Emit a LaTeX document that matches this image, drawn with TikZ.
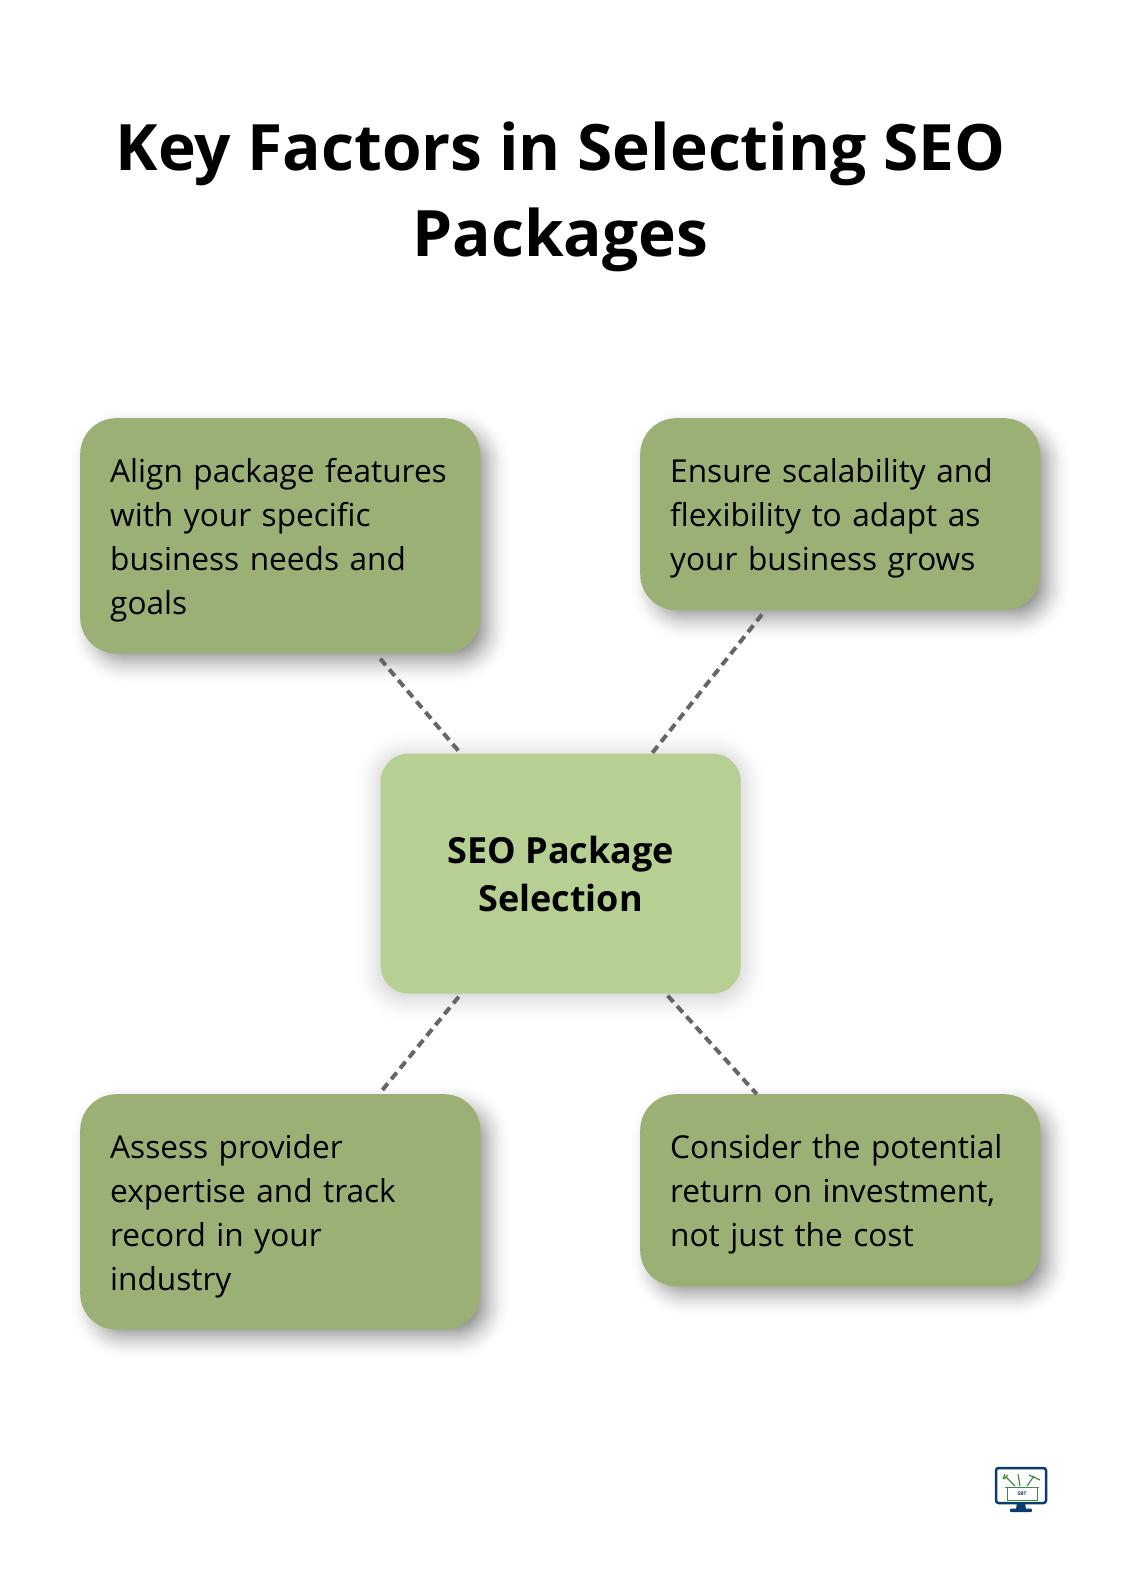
\documentclass[tikz,border=0pt]{standalone}
\usepackage{fontspec}
\setmainfont{Open Sans}
\usetikzlibrary{backgrounds}
\definecolor{boxgreen}{HTML}{9AB074}
\definecolor{centergreen}{HTML}{B5D092}
\definecolor{dashgray}{HTML}{666666}
\definecolor{logoblue}{HTML}{0B3C6F}
\definecolor{logogreen}{HTML}{3E8E41}
\tikzset{
  factor/.style={rectangle, fill=boxgreen, rounded corners=36pt, anchor=north west, inner sep=0pt,
    minimum width=400pt, text width=340pt, align=left, font=\fontsize{31.6}{44}\selectfont,
    execute at begin node={\rule{0pt}{32pt}}},
  link/.style={draw=dashgray, line width=4pt, dash pattern=on 8.5pt off 5.5pt},
  toolline/.style={draw=logogreen, line width=1.2pt},
}
\newcommand{\softshadow}[7]{% node, dx, dy, radius, opacity, largest, smallest
  \foreach \g in {#6,\numexpr#6-2\relax,...,#7} {
    \pgfmathsetmacro{\r}{max(#4+\g,2)}
    \pgfmathsetmacro{\o}{#5*(#6-\g)/(#6-(#7))}
    \fill[black, opacity=\o, rounded corners=\r pt]
      ([shift={(#2-\g,#3-\g)}]#1.north west) rectangle ([shift={(#2+\g,#3+\g)}]#1.south east);
  }
}
\begin{document}
\begin{tikzpicture}[x=1pt, y=-1pt]
  \useasboundingbox (0,0) rectangle (1120,1590);

  \node[align=center, font=\fontsize{64}{86}\bfseries\selectfont] (title) at (560.5,197)
    {Key Factors in Selecting SEO\\Packages};

  \node[factor, minimum height=235.3pt] (align) at (80,418)
    {Align package features\\with your specific\\business needs and\\goals};
  \node[factor, minimum height=192pt] (ensure) at (640,418)
    {Ensure scalability and\\flexibility to adapt as\\your business grows};
  \node[factor, minimum height=235.3pt] (assess) at (80,1094)
    {Assess provider\\expertise and track\\record in your\\industry};
  \node[factor, minimum height=192pt] (consider) at (640,1094)
    {Consider the potential\\return on investment,\\not just the cost};
  \node[rectangle, fill=centergreen, rounded corners=28pt, anchor=north west, inner sep=0pt,
    minimum width=360pt, minimum height=240pt, align=center,
    font=\fontsize{36}{48}\bfseries\selectfont,
    execute at begin node={\rule{0pt}{30pt}}] (selection) at (380.5,753.3)
    {SEO Package\\Selection};

  % shadows go behind the boxes
  \begin{scope}[on background layer]
    \softshadow{align}{10}{10}{36}{0.065}{22}{-20}
    \softshadow{ensure}{10}{10}{36}{0.065}{22}{-20}
    \softshadow{assess}{10}{10}{36}{0.065}{22}{-20}
    \softshadow{consider}{10}{10}{36}{0.065}{22}{-20}
    \softshadow{selection}{0}{3}{28}{0.02}{32}{-10}
  \end{scope}

  \draw[link] ([shift={(300.2,5)}]align.south west) -- ([shift={(77.8,-2.6)}]selection.north west);
  \draw[link] ([shift={(122,4)}]ensure.south west) -- ([shift={(271.5,0)}]selection.north west);
  \draw[link] ([shift={(78.2,3)}]selection.south west) -- ([shift={(301.6,-3)}]assess.north west);
  \draw[link] ([shift={(287.2,2)}]selection.south west) -- ([shift={(116.7,0)}]consider.north west);

  % logo
  \begin{scope}[shift={(2,2)}]
    \draw[logoblue, line width=2.5pt, fill=white, rounded corners=2.5pt] (994,1466) rectangle (1044,1501);
    \fill[logoblue] (1015,1501) -- (1023,1501) -- (1024,1507) -- (1014,1507) -- cycle;
    \fill[logoblue, rounded corners=1pt] (1008,1506.5) rectangle (1030,1510);
    \draw[toolline, line width=.8pt] (1003,1485) -- (1037,1485) (1005,1485) -- (1005,1498.5) -- (1035,1498.5) -- (1035,1485);
    \draw[toolline] (1013,1484) -- (1004,1475) (1001,1477) -- (1003,1472) (1006,1473) -- (1002,1477);
    \draw[toolline] (1018,1484) -- (1016,1472);
    \draw[toolline] (1025,1484) -- (1032,1474) (1027,1473) -- (1038,1478);
    \node[inner sep=0pt, text=logoblue, font=\fontsize{5}{5}\bfseries\selectfont] (logotext) at (1020,1491.5) {SBT};
  \end{scope}
\end{tikzpicture}
\end{document}
